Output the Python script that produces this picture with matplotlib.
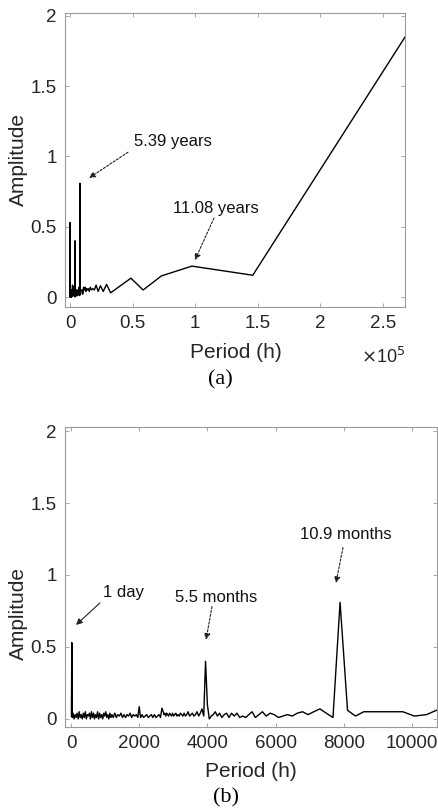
import matplotlib
matplotlib.use("Agg")
import matplotlib.pyplot as plt

plt.rcParams['font.family'] = ['Liberation Sans', 'DejaVu Sans']

# ---------------- data: amplitude spectrum vs period (h) ----------------
period_day = [12, 24, 36]
amp_day = [0.02, 0.53, 0.01]

period_noise1 = [60, 90, 120, 150, 180, 210, 240, 270, 300, 330, 360, 390, 420,
                 450, 480, 510, 540, 570, 600, 630, 660, 690, 720, 750, 780, 810,
                 840, 870, 900, 930, 960, 990, 1020, 1050, 1080, 1110, 1140, 1170, 1200]
amp_noise1 = [0.04, 0.00, 0.03, 0.01, 0.04, 0.00, 0.05, 0.01, 0.03, 0.00, 0.04, 0.01,
              0.05, 0.00, 0.03, 0.02, 0.04, 0.00, 0.05, 0.01, 0.04, 0.00, 0.03, 0.01,
              0.05, 0.00, 0.04, 0.01, 0.03, 0.00, 0.04, 0.02, 0.05, 0.01, 0.03, 0.00,
              0.04, 0.01, 0.03]

period_noise2 = [1240, 1285, 1330, 1375, 1420, 1465, 1510, 1555, 1600, 1645, 1690,
                 1735, 1780, 1825, 1870, 1915, 1960, 2000, 2040, 2085, 2130, 2175,
                 2220, 2265, 2310, 2355, 2400, 2445, 2490, 2535, 2580, 2625, 2667]
amp_noise2 = [0.01, 0.04, 0.01, 0.03, 0.02, 0.04, 0.01, 0.03, 0.01, 0.03, 0.02,
              0.04, 0.01, 0.03, 0.02, 0.03, 0.01, 0.085, 0.01, 0.03, 0.01, 0.02,
              0.03, 0.01, 0.02, 0.03, 0.01, 0.03, 0.01, 0.02, 0.03, 0.01, 0.075]

period_mid = [2704, 2729, 2755, 2781, 2808, 2835, 2863, 2891, 2920, 2949, 2980, 3010,
              3042, 3074, 3106, 3140, 3174, 3209, 3244, 3281, 3318, 3356, 3395, 3435,
              3476, 3518, 3561, 3605, 3650, 3696, 3744, 3792, 3842, 3893, 3946, 4000,
              4056, 4113, 4171, 4232, 4294, 4358, 4424, 4492, 4563, 4635, 4710, 4787,
              4867, 4949, 5034, 5123, 5214, 5309, 5407, 5509, 5615, 5725, 5840, 5959,
              6083, 6213, 6348, 6489, 6636, 6791, 6952, 7122, 7300, 7487, 7684, 7892,
              8111, 8343, 8588, 8848, 9125, 9419, 9733, 10069, 10429, 10815]
amp_mid = [0.05, 0.03, 0.04, 0.02, 0.04, 0.03, 0.02, 0.04, 0.03, 0.02, 0.04, 0.02,
           0.03, 0.04, 0.02, 0.03, 0.02, 0.04, 0.03, 0.02, 0.04, 0.02, 0.03, 0.05,
           0.02, 0.03, 0.04, 0.02, 0.03, 0.05, 0.02, 0.04, 0.07, 0.02, 0.40, 0.10,
           0.00, 0.02, 0.03, 0.05, 0.02, 0.04, 0.01, 0.03, 0.04, 0.01, 0.04, 0.02,
           0.04, 0.01, 0.02, 0.01, 0.03, 0.05, 0.01, 0.03, 0.05, 0.02, 0.04, 0.03,
           0.01, 0.02, 0.03, 0.02, 0.04, 0.05, 0.03, 0.05, 0.07, 0.04, 0.01, 0.81,
           0.06, 0.02, 0.05, 0.05, 0.05, 0.05, 0.05, 0.02, 0.03, 0.07]

period_long = [11231, 11680, 12167, 12696, 13273, 13905, 14600, 15368, 16222, 17176,
               18250, 19467, 20857, 22462, 24333, 26545, 29200, 32444, 36500, 41714,
               48667, 58400, 73000, 97333, 146000, 292000]
amp_long = [0.06, 0.05, 0.07, 0.04, 0.06, 0.05, 0.06, 0.04, 0.07, 0.05,
            0.06, 0.05, 0.085, 0.04, 0.08, 0.04, 0.09, 0.03, 0.056, 0.089,
            0.134, 0.05, 0.15, 0.22, 0.155, 2.19]

period = period_day + period_noise1 + period_noise2 + period_mid + period_long
amplitude = amp_day + amp_noise1 + amp_noise2 + amp_mid + amp_long

y_ticks = [0, 0.5, 1, 1.5, 2]
y_ticklabels = ['0', '0.5', '1', '1.5', '2']
xa_ticks = [0, 50000, 100000, 150000, 200000, 250000]
xa_ticklabels = ['0', '0.5', '1', '1.5', '2', '2.5']
xb_ticks = [0, 2000, 4000, 6000, 8000, 10000]
xb_ticklabels = ['0', '2000', '4000', '6000', '8000', '10000']

# annotations: (label, text position, arrow tail, arrow head, linestyle)
ann_a = [("5.39 years", (81900, 1.11), (46300, 1.03), (15200, 0.847), (0, (2, 1.5))),
         ("11.08 years", (116600, 0.633), (115000, 0.562), (99800, 0.263), (0, (2, 1.5)))]
ann_b = [("1 day", (1554, 0.875), (850, 0.806), (147, 0.653), '-'),
         ("5.5 months", (4252, 0.847), (4135, 0.78), (3960, 0.55), (0, (2, 1.5))),
         ("10.9 months", (8065, 1.278), (7977, 1.19), (7771, 0.944), (0, (2, 1.5)))]

W, H = 438, 811
fig = plt.figure(figsize=(W / 100, H / 100), dpi=100)
fig.patch.set_facecolor('white')

spine_col = '#9a9a9a'
tick_col = '#262626'


def style(ax):
    for s in ax.spines.values():
        s.set_color(spine_col)
        s.set_linewidth(0.8)
    ax.tick_params(direction='in', length=3, width=0.6, color=spine_col,
                   labelsize=13.5, labelcolor=tick_col, top=True, right=True, pad=6)


ax1 = fig.add_axes([65 / W, 1 - 307 / H, 340 / W, 294 / H])
ax1.plot(period, amplitude, color='black', lw=1.0)
ax1.set_xlim(-4000, 267600)
ax1.set_ylim(-0.071, 2.021)
ax1.set_xticks(xa_ticks)
ax1.set_xticklabels(xa_ticklabels)
ax1.set_yticks(y_ticks)
ax1.set_yticklabels(y_ticklabels)
style(ax1)
ax1.set_xlabel('Period (h)', fontsize=15, color=tick_col)
ax1.xaxis.set_label_coords(0.503, -0.122)
ax1.set_ylabel('Amplitude', fontsize=15, color=tick_col)
ax1.yaxis.set_label_coords(-0.109, 0.5)

ax2 = fig.add_axes([65 / W, 1 - 727 / H, 372 / W, 300 / H])
ax2.plot(period, amplitude, color='black', lw=1.0)
ax2.set_xlim(-176, 10735)
ax2.set_ylim(-0.056, 2.028)
ax2.set_xticks(xb_ticks)
ax2.set_xticklabels(xb_ticklabels)
ax2.set_yticks(y_ticks)
ax2.set_yticklabels(y_ticklabels)
style(ax2)
ax2.set_xlabel('Period (h)', fontsize=15, color=tick_col)
ax2.xaxis.set_label_coords(0.50, -0.117)
ax2.set_ylabel('Amplitude', fontsize=15, color=tick_col)
ax2.yaxis.set_label_coords(-0.099, 0.377)

for ax, anns in ((ax1, ann_a), (ax2, ann_b)):
    for label, tpos, tail, head, ls in anns:
        ax.text(tpos[0], tpos[1], label, fontsize=12, color='#111111',
                ha='center', va='center')
        ax.annotate('', xy=head, xytext=tail,
                    arrowprops=dict(arrowstyle='-|>', color='#222222', lw=0.8,
                                    linestyle=ls, mutation_scale=9,
                                    shrinkA=0, shrinkB=0))

fig.text(405 / W, 1 - 357 / H, r'$\times$10$^5$', fontsize=13, color=tick_col,
         ha='right', va='center')
fig.text(220 / W, 1 - 380 / H, '(a)', fontsize=16, family='Liberation Serif',
         ha='center', va='center', color='black')
fig.text(226 / W, 1 - 798 / H, '(b)', fontsize=16, family='Liberation Serif',
         ha='center', va='center', color='black')

fig.savefig('out.png', dpi=100, facecolor='white')
